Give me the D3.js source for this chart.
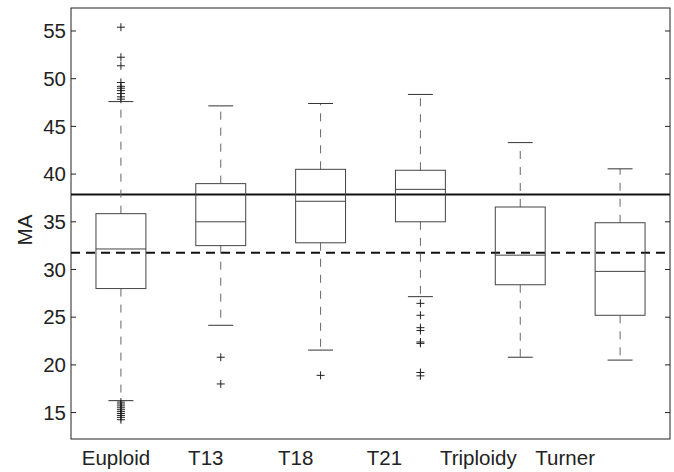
<!DOCTYPE html>
<html lang="en">
<head>
  <meta charset="UTF-8">
  <title>MA by group</title>
  <style>
    body { margin: 0; background: #fff; }
    text { font-family: "Liberation Sans", Arial, sans-serif; }
  </style>
</head>
<body>
  <svg id="chart" width="674" height="472"></svg>

  <script src="https://d3js.org/d3.v7.min.js"></script>
  <script>
    // data
    const groups = ["Euploid", "T13", "T18", "T21", "Triploidy", "Turner"];
    const q1 = [28.0, 32.5, 32.8, 35.0, 28.4, 25.2];
    const medians = [32.15, 35.0, 37.15, 38.4, 31.5, 29.8];
    const q3 = [35.85, 39.0, 40.5, 40.4, 36.55, 34.9];
    const whiskerLow = [16.25, 24.15, 21.55, 27.15, 20.8, 20.5];
    const whiskerHigh = [47.6, 47.15, 47.4, 48.35, 43.3, 40.55];
    const outliers = [
      [55.4, 52.25, 51.35, 49.6, 49.2, 49.0, 48.75, 48.45, 48.1, 47.85,
       16.1, 15.9, 15.7, 15.5, 15.3, 15.1, 14.9, 14.7, 14.5, 14.25],
      [20.8, 18.0],
      [18.9],
      [26.45, 25.2, 23.9, 23.6, 22.4, 22.25, 19.2, 18.85],
      [],
      []
    ];
    const refSolid = 37.85;
    const refDashed = 31.75;
    const yTicks = [15, 20, 25, 30, 35, 40, 45, 50, 55];
    // the category labels sit left of the boxes in the original (category units)
    const labelShift = [-0.05, -0.15, -0.25, -0.36, -0.42, -0.55];

    const svg = d3.select("#chart");
    const mLeft = 71, mRight = 670, mTop = 8, mBottom = 439;

    const x = d3.scaleLinear().domain([0.5, 6.5]).range([mLeft, mRight]);
    const y = d3.scaleLinear().domain([12.23, 57.41]).range([mBottom, mTop]);

    const boxHalf = 0.25, capHalf = 0.125;

    // reference lines
    svg.append("line")
      .attr("x1", mLeft).attr("x2", mRight)
      .attr("y1", y(refSolid)).attr("y2", y(refSolid))
      .attr("stroke", "#111").attr("stroke-width", 2);
    svg.append("line")
      .attr("x1", mLeft).attr("x2", mRight)
      .attr("y1", y(refDashed)).attr("y2", y(refDashed))
      .attr("stroke", "#111").attr("stroke-width", 2)
      .attr("stroke-dasharray", "9,6");

    const g = svg.append("g")
      .selectAll("g")
      .data(groups.map((name, i) => ({ name, i, pos: i + 1 })))
      .join("g");

    // whiskers
    g.append("line")
      .attr("x1", d => x(d.pos)).attr("x2", d => x(d.pos))
      .attr("y1", d => y(q3[d.i])).attr("y2", d => y(whiskerHigh[d.i]))
      .attr("stroke", "#666").attr("stroke-dasharray", "8,8");
    g.append("line")
      .attr("x1", d => x(d.pos)).attr("x2", d => x(d.pos))
      .attr("y1", d => y(q1[d.i])).attr("y2", d => y(whiskerLow[d.i]))
      .attr("stroke", "#666").attr("stroke-dasharray", "8,8");

    // caps
    [whiskerHigh, whiskerLow].forEach(arr => {
      g.append("line")
        .attr("x1", d => x(d.pos - capHalf)).attr("x2", d => x(d.pos + capHalf))
        .attr("y1", d => y(arr[d.i])).attr("y2", d => y(arr[d.i]))
        .attr("stroke", "#333");
    });

    // boxes
    g.append("rect")
      .attr("x", d => x(d.pos - boxHalf))
      .attr("width", d => x(d.pos + boxHalf) - x(d.pos - boxHalf))
      .attr("y", d => y(q3[d.i]))
      .attr("height", d => y(q1[d.i]) - y(q3[d.i]))
      .attr("fill", "none").attr("stroke", "#444");

    g.append("line")
      .attr("x1", d => x(d.pos - boxHalf)).attr("x2", d => x(d.pos + boxHalf))
      .attr("y1", d => y(medians[d.i])).attr("y2", d => y(medians[d.i]))
      .attr("stroke", "#444");

    // outliers as plus signs
    g.selectAll("path.out")
      .data(d => outliers[d.i].map(v => ({ v, pos: d.pos })))
      .join("path")
      .attr("class", "out")
      .attr("d", d => {
        const cx = x(d.pos), cy = y(d.v);
        return `M${cx - 4},${cy}H${cx + 4}M${cx},${cy - 4}V${cy + 4}`;
      })
      .attr("stroke", "#222");

    // frame
    svg.append("rect")
      .attr("x", mLeft).attr("y", mTop)
      .attr("width", mRight - mLeft).attr("height", mBottom - mTop)
      .attr("fill", "none").attr("stroke", "#222");

    // y ticks on both sides, pointing inward
    svg.append("g").selectAll("line")
      .data(yTicks).join("line")
      .attr("x1", mLeft).attr("x2", mLeft + 5)
      .attr("y1", d => y(d)).attr("y2", d => y(d))
      .attr("stroke", "#222");
    svg.append("g").selectAll("line")
      .data(yTicks).join("line")
      .attr("x1", mRight - 5).attr("x2", mRight)
      .attr("y1", d => y(d)).attr("y2", d => y(d))
      .attr("stroke", "#222");

    svg.append("g").selectAll("text")
      .data(yTicks).join("text")
      .attr("x", mLeft - 5)
      .attr("y", d => y(d))
      .attr("dy", "0.35em")
      .attr("text-anchor", "end")
      .attr("font-size", "20.5px")
      .attr("fill", "#222")
      .text(d => d);

    // category labels
    svg.append("g").selectAll("text")
      .data(groups).join("text")
      .attr("x", (d, i) => x(i + 1 + labelShift[i]))
      .attr("y", 465)
      .attr("text-anchor", "middle")
      .attr("font-size", "20.5px")
      .attr("fill", "#222")
      .text(d => d);

    svg.append("text")
      .attr("transform", `translate(25,230) rotate(-90)`)
      .attr("dy", "0.35em")
      .attr("text-anchor", "middle")
      .attr("font-size", "20.5px")
      .attr("fill", "#222")
      .text("MA");
  </script>
</body>
</html>
